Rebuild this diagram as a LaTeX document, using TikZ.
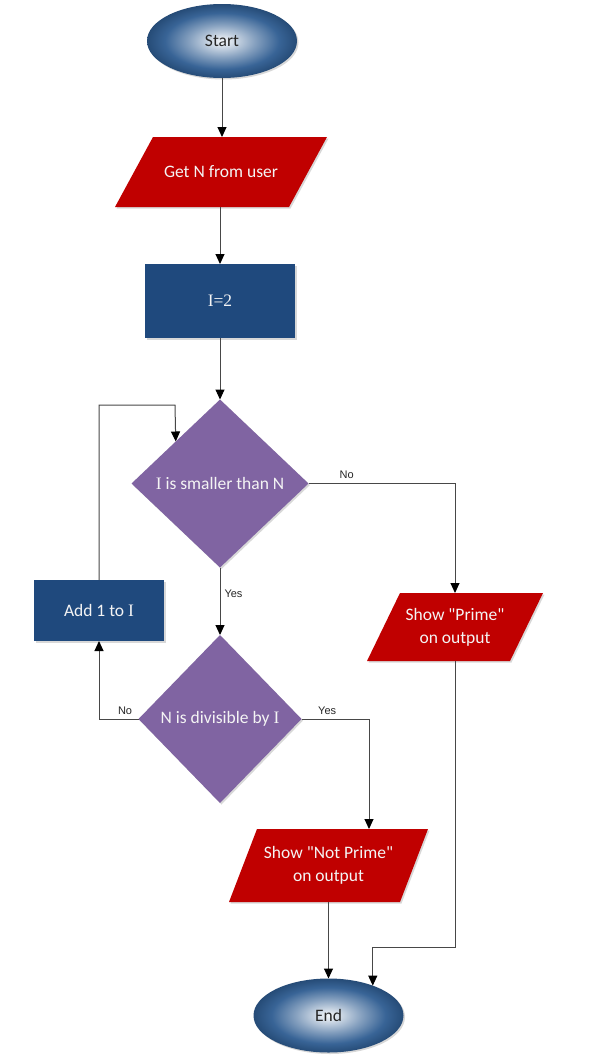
\documentclass[tikz,border=0pt]{standalone}
\usepackage{fontspec}
\setmainfont{Carlito}[Ligatures=TeXOff]
\newfontfamily\serifI{Liberation Serif}
\newfontfamily\lblfont{Liberation Sans}
\usetikzlibrary{shapes.geometric,arrows.meta,shadows,calc}
\definecolor{ellblue}{HTML}{2E5C91}
\definecolor{boxblue}{HTML}{1F497D}
\definecolor{darkred}{HTML}{C00000}
\definecolor{purp}{HTML}{8064A2}
\definecolor{txtw}{HTML}{F4F4F4}
\pgfdeclareradialshading{ellshade}{\pgfpoint{0bp}{0bp}}{color(0bp)=(white!94!ellblue); color(3bp)=(white!82!ellblue); color(11bp)=(ellblue!58!white); color(19bp)=(ellblue!95!white); color(25bp)=(ellblue!82!black); color(50bp)=(ellblue!82!black)}
\newcommand\vI{{\serifI I}}
\pgfdeclarelayer{back}
\pgfdeclarelayer{shp}
\pgfsetlayers{back,shp,main}
\newcommand\paral[2]{\fill[darkred, shadowsty] ($(#1.north west)+(#2,0)$) -- ($(#1.north east)+(#2,0)$) -- ($(#1.south east)-(#2,0)$) -- ($(#1.south west)-(#2,0)$) -- cycle;}
\begin{document}
\begin{tikzpicture}[x=1pt,y=-1pt,
  shadowsty/.style={drop shadow={shadow xshift=1.5pt, shadow yshift=-1.5pt, opacity=0.3}},
  base/.style={inner sep=0pt, outer sep=0pt, font=\fontsize{17.5}{23}\selectfont, text=txtw, align=center},
  term/.style={base, shadowsty, ellipse, minimum width=150pt, minimum height=74pt, shading=ellshade, text=black!85},
  io/.style={base, rectangle},
  proc/.style={base, shadowsty, rectangle, fill=boxblue},
  dec/.style={base, shadowsty, diamond, fill=purp},
  arr/.style={draw=black!72, line width=1pt, -{Triangle[length=10pt,width=9pt,color=black]}},
  lbl/.style={font=\lblfont\fontsize{11}{12}\selectfont, text=black!85, inner sep=1pt}]
\begin{pgfonlayer}{back}
\fill[white] (0,0) rectangle (592,1061);
\end{pgfonlayer}
\useasboundingbox (0,0) rectangle (592,1061);

\node[term] (start) at (222,41) {Start};
\node[io, minimum width=174pt, minimum height=70pt] (getn) at (221,172) {Get N from user};
\node[proc, minimum width=150pt, minimum height=74pt] (i2) at (220,301) {\serifI I=2};
\node[dec, minimum width=177pt, minimum height=168pt] (d1) at (220,483.5) {\vI{} is smaller than N};
\node[proc, minimum width=130pt, minimum height=61pt] (add) at (99,610.5) {Add 1 to \vI};
\node[io, minimum width=143pt, minimum height=68pt] (prime) at (455,627) {Show "Prime"\\on output};
\node[dec, minimum width=163pt, minimum height=168pt] (d2) at (220,719) {N is divisible by \vI};
\node[io, minimum width=171pt, minimum height=73pt] (np) at (328.5,865.5) {Show "Not Prime"\\on output};
\node[term] (end) at (328.5,1015.5) {End};

\begin{pgfonlayer}{shp}
\paral{getn}{19}
\paral{prime}{16.5}
\paral{np}{14}
\end{pgfonlayer}

\coordinate (looptop) at (175,405);
\coordinate (elbowy) at (0,947);

\draw[arr] (start.south) -- (start.south |- getn.north);
\draw[arr] (getn.south -| i2.north) -- (i2.north);
\draw[arr] (i2.south) -- (d1.north);
\draw[arr] (d1.south) -- (d2.north) node[lbl, pos=0.39, right=3pt] {Yes};
\draw[arr] (d1.east) -| (prime.north) node[lbl, pos=0.13, above=3pt] {No};
\draw[arr] (d2.west) -| (add.south) node[lbl, pos=0.17, above=3pt] {No};
\draw[arr] (add.north) |- (looptop) -- (d1.north west);
\draw[arr] (d2.east) -| ($(np.north)+(40.5,0)$) node[lbl, pos=0.19, above=3pt] {Yes};
\draw[arr] (np.south) -- (end.north);
\draw[arr] (prime.south) -- (prime.south |- elbowy) -| (end.34);
\end{tikzpicture}
\end{document}
